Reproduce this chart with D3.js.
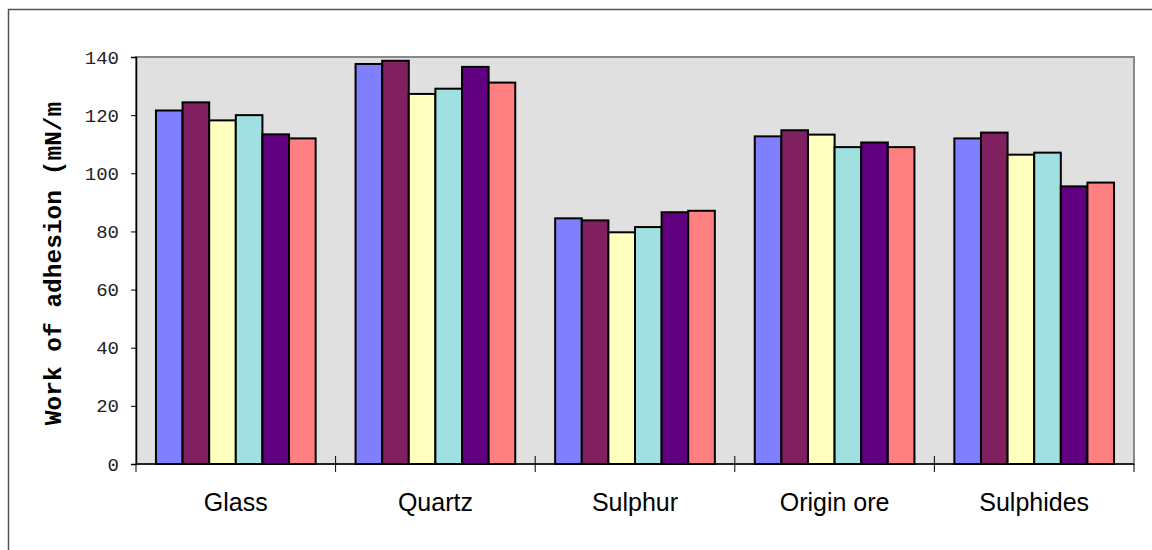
<!DOCTYPE html>
<html>
<head>
<meta charset="utf-8">
<script src="https://cdn.jsdelivr.net/npm/d3@7"></script>
<style>
  body { margin: 0; background: #fff; }
  .tick text { font-family: "Liberation Mono", monospace; }
</style>
</head>
<body>
<div id="chart"></div>
<script>
var categories = ["Glass", "Quartz", "Sulphur", "Origin ore", "Sulphides"];
var seriesNames = ["s1", "s2", "s3", "s4", "s5", "s6"];
var s1 = [121.6, 137.6, 84.5, 112.7, 112.0];
var s2 = [124.4, 138.7, 83.8, 114.8, 114.0];
var s3 = [118.2, 127.3, 79.7, 113.3, 106.4];
var s4 = [120.0, 129.1, 81.5, 109.0, 107.1];
var s5 = [113.4, 136.6, 86.6, 110.6, 95.5];
var s6 = [112.0, 131.2, 87.1, 109.0, 96.8];
var yTicks = [0, 20, 40, 60, 80, 100, 120, 140];
var colors = ["#8080ff", "#802060", "#ffffc0", "#a0e0e0", "#600080", "#ff8080"];

var allSeries = [s1, s2, s3, s4, s5, s6];

var margin = { top: 57, right: 18, bottom: 86, left: 136 };
var width = 1152 - margin.left - margin.right;
var height = 550 - margin.top - margin.bottom;

var svg = d3.select("#chart")
    .append("svg")
    .attr("width", 1152)
    .attr("height", 550);

// outer chart frame
svg.append("rect")
    .attr("x", 8.5).attr("y", 9.5)
    .attr("width", 1200).attr("height", 600)
    .attr("fill", "none")
    .attr("stroke", "#555")
    .attr("stroke-width", 1.5);

var g = svg.append("g")
    .attr("transform", "translate(" + margin.left + "," + margin.top + ")");

var x = d3.scaleBand().domain(categories).range([0, width]).padding(0);
var xInner = d3.scaleBand().domain(seriesNames)
    .range([x.bandwidth() * 0.1, x.bandwidth() * 0.9]);
var y = d3.scaleLinear().domain([0, 140]).range([height, 0]);

// plot area
g.append("rect")
    .attr("width", width).attr("height", height)
    .attr("fill", "#e0e0e0")
    .attr("stroke", "#888")
    .attr("stroke-width", 2);

// bars
var groups = g.selectAll(".grp")
    .data(categories)
    .enter().append("g")
    .attr("class", "grp")
    .attr("transform", function(d) { return "translate(" + x(d) + ",0)"; });

groups.selectAll("rect")
    .data(function(d, i) {
      return allSeries.map(function(s, j) { return { key: seriesNames[j], v: s[i], c: colors[j] }; });
    })
    .enter().append("rect")
    .attr("x", function(d) { return xInner(d.key); })
    .attr("width", xInner.bandwidth())
    .attr("y", function(d) { return y(d.v); })
    .attr("height", function(d) { return height - y(d.v); })
    .attr("fill", function(d) { return d.c; })
    .attr("stroke", "#000")
    .attr("stroke-width", 2);

// y axis
var yAxis = d3.axisLeft(y).tickValues(yTicks).tickSize(5).tickPadding(12);
var ya = g.append("g").call(yAxis);
ya.select(".domain").attr("stroke", "#000").attr("stroke-width", 1.5);
ya.selectAll(".tick text").attr("font-size", 19).attr("fill", "#222");

// x axis line and crossing ticks
g.append("line")
    .attr("x1", 0).attr("x2", width)
    .attr("y1", height).attr("y2", height)
    .attr("stroke", "#000").attr("stroke-width", 1.5);

var boundaries = d3.range(categories.length + 1);
g.selectAll(".xtick")
    .data(boundaries)
    .enter().append("line")
    .attr("x1", function(i) { return i * x.step(); })
    .attr("x2", function(i) { return i * x.step(); })
    .attr("y1", function(i) { return i === 0 || i === categories.length ? height : height - 8; })
    .attr("y2", height + 8)
    .attr("stroke", "#000");

g.selectAll(".xlabel")
    .data(categories)
    .enter().append("text")
    .attr("x", function(d) { return x(d) + x.bandwidth() / 2; })
    .attr("y", height + 47)
    .attr("text-anchor", "middle")
    .attr("font-family", "Liberation Sans, Arial, sans-serif")
    .attr("font-size", 25)
    .attr("fill", "#000")
    .text(function(d) { return d; });

// y title
svg.append("text")
    .attr("transform", "translate(61," + (margin.top + height / 2 + 3) + ") rotate(-90)")
    .attr("text-anchor", "middle")
    .attr("font-family", "Liberation Mono, Courier New, monospace")
    .attr("font-weight", "bold")
    .attr("font-size", 24.5)
    .attr("fill", "#000")
    .text("Work of adhesion (mN/m");
</script>
</body>
</html>
